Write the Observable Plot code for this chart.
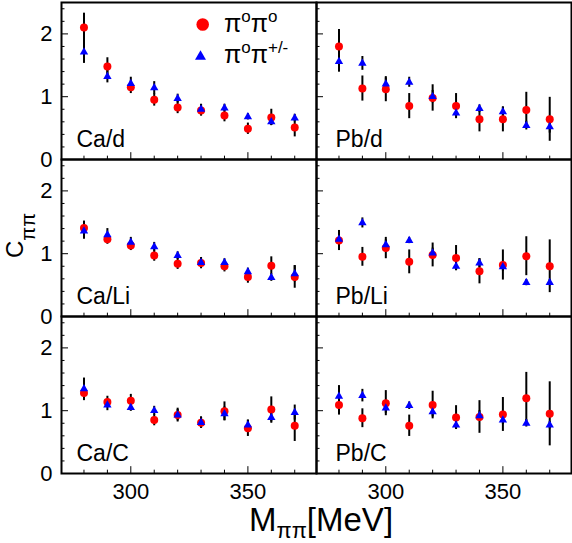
<!DOCTYPE html>
<html><head><meta charset="utf-8">
<script src="https://cdn.jsdelivr.net/npm/d3@7"></script>
<script src="https://cdn.jsdelivr.net/npm/@observablehq/plot@0.6"></script>
<style>
html,body{margin:0;padding:0;background:#fff;}
svg{display:block;}
</style>
</head><body><div id="chart"></div>
<script>
// ---- data ----
const mass = [280, 290, 300, 310, 320, 330, 340, 350, 360, 370];
const panelNames = ["Ca/d", "Pb/d", "Ca/Li", "Pb/Li", "Ca/C", "Pb/C"];
const columns = ["Ca", "Pb"];
const rowsOrder = ["d", "Li", "C"];

const caD_00     = [2.10, 1.48, 1.15, 0.95, 0.83, 0.78, 0.70, 0.49, 0.67, 0.51];
const caD_00_err = [0.23, 0.14, 0.10, 0.10, 0.10, 0.09, 0.10, 0.09, 0.13, 0.15];
const caD_pm     = [1.71, 1.32, 1.21, 1.14, 0.97, 0.80, 0.82, 0.68, 0.60, 0.66];
const caD_pm_err = [0.18, 0.10, 0.10, 0.10, 0.07, 0.08, 0.06, 0.05, 0.06, 0.06];

const pbD_00     = [1.80, 1.13, 1.12, 0.85, 0.98, 0.85, 0.64, 0.64, 0.79, 0.64];
const pbD_00_err = [0.27, 0.20, 0.20, 0.20, 0.21, 0.20, 0.20, 0.20, 0.28, 0.35];
const pbD_pm     = [1.56, 1.53, 1.20, 1.23, 1.00, 0.74, 0.81, 0.76, 0.54, 0.52];
const pbD_pm_err = [0.17, 0.11, 0.10, 0.08, 0.10, 0.06, 0.06, 0.07, 0.07, 0.10];

const caLi_00     = [1.41, 1.23, 1.13, 0.97, 0.84, 0.85, 0.80, 0.63, 0.81, 0.63];
const caLi_00_err = [0.11, 0.08, 0.08, 0.09, 0.09, 0.09, 0.09, 0.10, 0.14, 0.18];
const caLi_pm     = [1.36, 1.30, 1.18, 1.11, 0.97, 0.86, 0.86, 0.71, 0.62, 0.68];
const caLi_pm_err = [0.13, 0.10, 0.08, 0.07, 0.06, 0.06, 0.06, 0.06, 0.06, 0.13];

const pbLi_00     = [1.21, 0.95, 1.09, 0.87, 0.98, 0.93, 0.72, 0.82, 0.96, 0.80];
const pbLi_00_err = [0.16, 0.15, 0.17, 0.19, 0.19, 0.20, 0.20, 0.24, 0.31, 0.42];
const pbLi_pm     = [1.23, 1.49, 1.14, 1.21, 1.01, 0.80, 0.85, 0.79, 0.54, 0.54];
const pbLi_pm_err = [0.08, 0.08, 0.08, 0.05, 0.08, 0.07, 0.07, 0.07, 0.05, 0.05];

const caC_00     = [1.28, 1.14, 1.16, 0.85, 0.93, 0.81, 0.99, 0.72, 1.02, 0.76];
const caC_00_err = [0.12, 0.09, 0.10, 0.09, 0.11, 0.09, 0.15, 0.13, 0.20, 0.25];
const caC_pm     = [1.35, 1.09, 1.05, 1.00, 0.93, 0.81, 0.95, 0.77, 0.89, 0.97];
const caC_pm_err = [0.17, 0.09, 0.06, 0.07, 0.09, 0.09, 0.11, 0.08, 0.09, 0.12];

const pbC_00     = [1.09, 0.88, 1.12, 0.76, 1.09, 0.89, 0.90, 0.94, 1.20, 0.95];
const pbC_00_err = [0.16, 0.15, 0.20, 0.17, 0.22, 0.19, 0.26, 0.27, 0.41, 0.51];
const pbC_pm     = [1.23, 1.24, 1.04, 1.08, 0.98, 0.77, 0.92, 0.85, 0.80, 0.77];
const pbC_pm_err = [0.17, 0.10, 0.08, 0.06, 0.08, 0.06, 0.08, 0.07, 0.06, 0.06];

const yMajor = [0, 1, 2];
const yMinor = [0.2, 0.4, 0.6, 0.8, 1.2, 1.4, 1.6, 1.8, 2.2, 2.4];
const xMajor = [300, 350];
const xMinor = [280, 290, 310, 320, 330, 340, 360, 370];

// ---- build tables ----
const series = {
  "Ca/d":  [caD_00, caD_00_err, caD_pm, caD_pm_err],
  "Pb/d":  [pbD_00, pbD_00_err, pbD_pm, pbD_pm_err],
  "Ca/Li": [caLi_00, caLi_00_err, caLi_pm, caLi_pm_err],
  "Pb/Li": [pbLi_00, pbLi_00_err, pbLi_pm, pbLi_pm_err],
  "Ca/C":  [caC_00, caC_00_err, caC_pm, caC_pm_err],
  "Pb/C":  [pbC_00, pbC_00_err, pbC_pm, pbC_pm_err]
};
const pts00 = [], ptsPm = [];
const labels = panelNames.map(n => ({name: n, col: n.split("/")[0], row: n.split("/")[1]}));
for (const L of labels) {
  const [v0, e0, vp, ep] = series[L.name];
  mass.forEach((m, i) => {
    pts00.push({col: L.col, row: L.row, m, v: v0[i], e: e0[i]});
    ptsPm.push({col: L.col, row: L.row, m, v: vp[i], e: ep[i]});
  });
}

const W = 572, H = 543, mL = 60, mR = 1, mT = 1, mB = 69;
const facetW = (W - mL - mR) / 2, facetH = (H - mT - mB) / 3;
const FONT = "'Liberation Sans', Arial, Helvetica, sans-serif";

const svg = Plot.plot({
  width: W, height: H,
  marginLeft: mL, marginRight: mR, marginTop: mT, marginBottom: mB,
  style: {fontFamily: FONT, background: "white", color: "black", overflow: "visible"},
  fx: {domain: columns, padding: 0, axis: null},
  fy: {domain: rowsOrder, padding: 0, axis: null},
  x: {domain: [270.4, 379.3]},
  y: {domain: [0, 2.5]},
  marks: [
    Plot.tickY(yMinor, {y: d => d, insetRight: facetW - 4, stroke: "black", strokeWidth: 1}),
    Plot.tickY(yMajor, {y: d => d, insetRight: facetW - 7.5, stroke: "black", strokeWidth: 1}),
    Plot.tickX(xMinor, {x: d => d, insetTop: facetH - 4, stroke: "black", strokeWidth: 1}),
    Plot.tickX(xMajor, {x: d => d, insetTop: facetH - 7.5, stroke: "black", strokeWidth: 1}),
    Plot.ruleX(ptsPm, {x: "m", y1: d => d.v - d.e, y2: d => d.v + d.e, fx: "col", fy: "row", stroke: "black", strokeWidth: 2}),
    Plot.ruleX(pts00, {x: "m", y1: d => d.v - d.e, y2: d => d.v + d.e, fx: "col", fy: "row", stroke: "black", strokeWidth: 2}),
    Plot.dot(pts00, {x: "m", y: "v", fx: "col", fy: "row", r: 4, fill: "#ff0000", stroke: "none"}),
    Plot.dot(ptsPm, {x: "m", y: "v", fx: "col", fy: "row", r: 3.1, symbol: "triangle", fill: "#0000ff", stroke: "none"}),
    Plot.text(labels.filter(d => d.col === "Ca"), {fx: "col", fy: "row", text: "name", frameAnchor: "bottom-left", textAnchor: "start", lineAnchor: "bottom", dx: 15, dy: -13, fontSize: 23, fill: "black"}),
    Plot.text(labels.filter(d => d.col === "Pb"), {fx: "col", fy: "row", text: "name", frameAnchor: "bottom-left", textAnchor: "start", lineAnchor: "bottom", dx: 19, dy: -13, fontSize: 23, fill: "black"}),
    Plot.frame({stroke: "black", strokeWidth: 2}),
    Plot.axisY({ticks: yMajor, tickFormat: d => String(d), tickSize: 0, tickPadding: 9, fontSize: 22, label: null}),
    Plot.axisX({ticks: xMajor, tickFormat: d => String(d), tickSize: 0, tickPadding: 10, fontSize: 22, label: null})
  ]
});

document.getElementById("chart").appendChild(svg);

// ---- titles and legend (rich text with sub/superscripts) ----
const s = d3.select(svg);
const g = s.append("g").attr("font-family", FONT).attr("fill", "black").attr("text-anchor", "start");

// y title C_ππ
const yt = g.append("text").attr("transform", "translate(22.5,258) rotate(-90)").attr("font-size", 24);
yt.append("tspan").text("C");
yt.append("tspan").attr("font-size", 20).attr("dy", 12.5).text("ππ");

// x title M_ππ[MeV]
const xt = g.append("text").attr("x", 249).attr("y", 531).attr("font-size", 33);
xt.append("tspan").text("M");
xt.append("tspan").attr("font-size", 22).attr("dy", 7).text("ππ");
xt.append("tspan").attr("dy", -7).text("[MeV]");

// legend
g.append("circle").attr("cx", 202.7).attr("cy", 24.5).attr("r", 6.3).attr("fill", "#ff0000");
g.append("path").attr("d", d3.symbol(d3.symbolTriangle, 52)()).attr("transform", "translate(200.5,56.5)").attr("fill", "#0000ff");
const l1 = g.append("text").attr("x", 224).attr("y", 31.7).attr("font-size", 25);
l1.append("tspan").text("π");
l1.append("tspan").attr("font-size", 17).attr("dy", -10).text("o");
l1.append("tspan").attr("dy", 10).text("π");
l1.append("tspan").attr("font-size", 17).attr("dy", -10).text("o");
const l2 = g.append("text").attr("x", 224).attr("y", 63.3).attr("font-size", 25);
l2.append("tspan").text("π");
l2.append("tspan").attr("font-size", 17).attr("dy", -10).text("o");
l2.append("tspan").attr("dy", 10).text("π");
l2.append("tspan").attr("font-size", 17).attr("dy", -10).text("+/-");
</script>
</body></html>
